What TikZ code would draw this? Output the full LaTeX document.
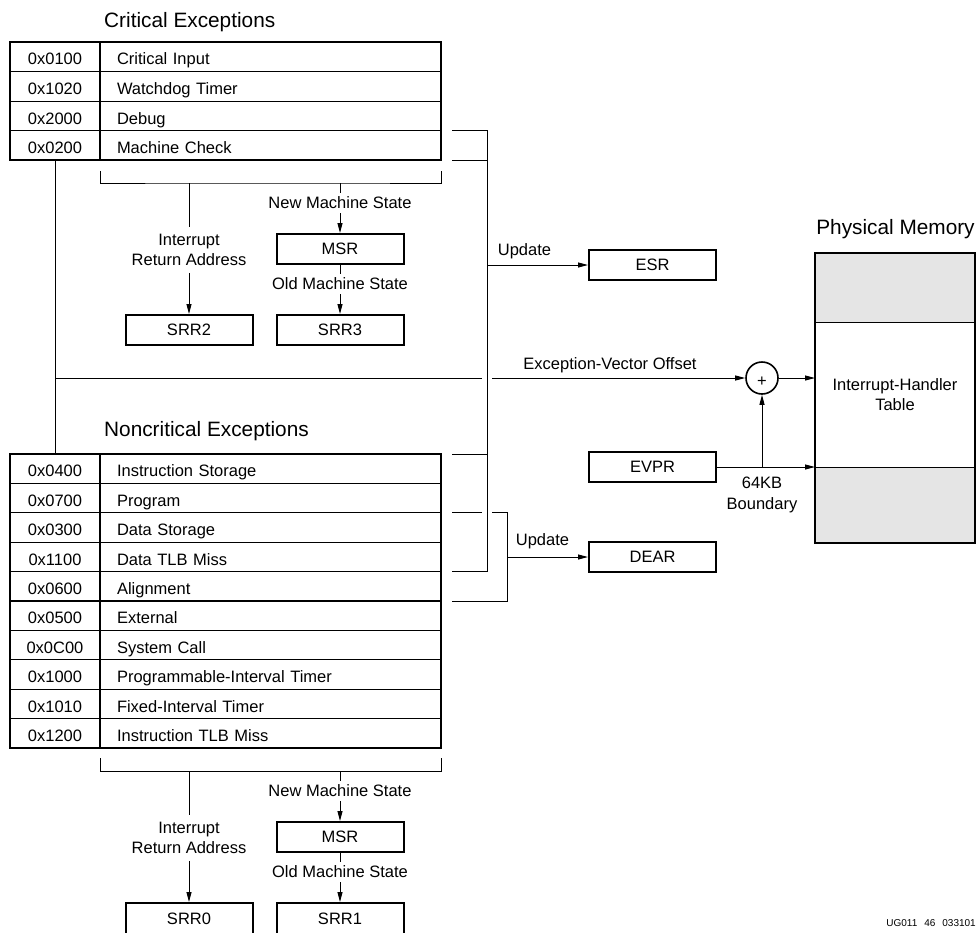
\documentclass[tikz,border=0pt]{standalone}
\usepackage{fontspec}
\setmainfont{Liberation Sans}
\usetikzlibrary{arrows.meta,calc}
\definecolor{memgray}{gray}{0.9}
\begin{document}
\begin{tikzpicture}[x=1pt,y=-1pt,
  txt/.style={font=\fontsize{16.5}{20}\selectfont},
  ttl/.style={font=\fontsize{20.8}{25}\selectfont, inner sep=0pt, text height=14.9pt, text depth=0pt},
  lbl/.style={txt, inner sep=0pt, text height=11.8pt, text depth=0pt},
  conn/.style={line width=1pt},
  arr/.style={conn, -{Triangle[length=10pt,width=5pt]}},
  regbox/.style={txt, draw, line width=2pt, minimum width=127pt, minimum height=30pt,
    inner sep=0pt, text height=11.8pt, text depth=0pt},
  codecell/.style={txt, draw, line width=1.3pt, outer sep=0pt, minimum width=90pt,
    inner sep=0pt, text height=16.2pt, text depth=0pt},
  namecell/.style={txt, draw, line width=1.3pt, outer sep=0pt, text width=307pt,
    inner xsep=17pt, inner ysep=0pt, align=left, text height=16.2pt, text depth=0pt},
  memcell/.style={draw, line width=1pt, outer sep=0pt, minimum width=160pt, inner sep=0pt},
  frame/.style={line width=2pt},
]
\useasboundingbox (0,0) rectangle (977,932);

% ---------- critical exception vector table ----------
\node[ttl, anchor=west] (tcrit) at (104,19.7) {Critical Exceptions};
\foreach \code/\name [count=\i] in {0x0100/Critical Input, 0x1020/Watchdog Timer,
    0x2000/Debug, 0x0200/Machine Check}{
  \node[codecell, minimum height=29.6pt] (ca\i) at (55, 42+29.6*\i-14.8) {\code};
  \node[namecell, minimum height=29.6pt] (cb\i) at (270.5, 42+29.6*\i-14.8) {\name};
}
\draw[frame] (ca1.north west) rectangle (cb4.south east);
\draw[frame] (ca1.north east) -- (ca4.south east);

% ---------- noncritical exception vector table ----------
\node[ttl, anchor=west] (tnon) at (104,429.5) {Noncritical Exceptions};
\foreach \code/\name [count=\i] in {0x0400/Instruction Storage, 0x0700/Program,
    0x0300/Data Storage, 0x1100/Data TLB Miss, 0x0600/Alignment, 0x0500/External,
    0x0C00/System Call, 0x1000/Programmable-Interval Timer,
    0x1010/Fixed-Interval Timer, 0x1200/Instruction TLB Miss}{
  \node[codecell, minimum height=29.4pt] (na\i) at (55, 454+29.4*\i-14.7) {\code};
  \node[namecell, minimum height=29.4pt] (nb\i) at (270.5, 454+29.4*\i-14.7) {\name};
}
\draw[frame] (na1.north west) rectangle (nb10.south east);
\draw[frame] (na1.north east) -- (na10.south east);

% ---------- critical save/restore registers ----------
\coordinate (kl) at (100,171);
\coordinate (kr) at (441,171);
\coordinate (kta) at (189,183);
\coordinate (ktb) at (340,183);
\draw[conn] (kl) |- (kta) -- (ktb) -| (kr);
\node[txt, align=center, inner xsep=0pt, inner ysep=7pt] (ira) at (189,250) {Interrupt\\Return Address};
\node[lbl, inner ysep=4pt] (nms) at (340,203) {New Machine State};
\node[regbox] (msr) at (340,249) {MSR};
\node[lbl, inner ysep=4pt] (oms) at (340,284) {Old Machine State};
\node[regbox] (srr3) at (340,330) {SRR3};
\node[regbox] (srr2) at (189,330) {SRR2};
\draw[conn] (kta) -- (ira.north);
\draw[arr] (ira.south) -- (srr2.north);
\draw[conn] (ktb) -- (nms.north);
\draw[arr] (nms.south) -- (msr.north);
\draw[conn] (msr.south) -- (oms.north);
\draw[arr] (oms.south) -- (srr3.north);

% ---------- noncritical save/restore registers ----------
\coordinate (kl2) at (100,758);
\coordinate (kr2) at (441,758);
\coordinate (kta2) at (189,771);
\coordinate (ktb2) at (340,771);
\draw[conn] (kl2) |- (kta2) -- (ktb2) -| (kr2);
\node[txt, align=center, inner xsep=0pt, inner ysep=7pt] (ira2) at (189,838) {Interrupt\\Return Address};
\node[lbl, inner ysep=4pt] (nms2) at (340,791) {New Machine State};
\node[regbox] (msr2) at (340,837) {MSR};
\node[lbl, inner ysep=4pt] (oms2) at (340,872) {Old Machine State};
\node[regbox, minimum height=31pt] (srr1) at (340,918.5) {SRR1};
\node[regbox, minimum height=31pt] (srr0) at (189,918.5) {SRR0};
\draw[conn] (kta2) -- (ira2.north);
\draw[arr] (ira2.south) -- (srr0.north);
\draw[conn] (ktb2) -- (nms2.north);
\draw[arr] (nms2.south) -- (msr2.north);
\draw[conn] (msr2.south) -- (oms2.north);
\draw[arr] (oms2.south) -- (srr1.north);

% ---------- ESR update bus ----------
\coordinate (esrbus) at (487,0);
\coordinate (dearbus) at (507,0);
\coordinate (e1) at ([xshift=11pt]cb3.south east);
\coordinate (e2) at ([xshift=11pt]cb4.south east);
\coordinate (e3) at ([xshift=11pt]nb1.north east);
\coordinate (e4) at ([xshift=11pt]nb4.south east);
\node[regbox] (esr) at (652.5,265) {ESR};
\node[lbl] (upd1) at (524.5,249.3) {Update};
\draw[conn] (e1) -- (e1 -| esrbus) -- (e4 -| esrbus) -- (e4);
\draw[conn] (e2) -- (e2 -| esrbus);
\draw[conn] (e3) -- (e3 -| esrbus);
\draw[arr] (esr.west -| esrbus) -- (esr.west);

% ---------- DEAR update bus ----------
\coordinate (d1) at ([xshift=11pt]nb2.south east);
\coordinate (d2) at ([xshift=11pt]nb5.south east);
\node[regbox] (dear) at (652.5,557) {DEAR};
\node[lbl] (upd2) at (542.5,540) {Update};
\draw[conn] (d1) -- ([xshift=-5pt]d1 -| esrbus);
\draw[conn] ([xshift=5pt]d1 -| esrbus) -| (d2 -| dearbus) -- (d2);
\draw[arr] (dear.west -| dearbus) -- (dear.west);

% ---------- physical memory ----------
\node[ttl] (tmem) at (895.5,227) {Physical Memory};
\node[memcell, fill=memgray, minimum height=69pt] (mtop) at (895,287.5) {};
\node[memcell, txt, font=\fontsize{16.5}{19.7}\selectfont, align=center, minimum height=145pt] (mmid) at (895,394.5) {Interrupt-Handler\\Table};
\node[memcell, fill=memgray, minimum height=76pt] (mbot) at (895,505) {};
\draw[frame] (mtop.north west) rectangle (mbot.south east);

% ---------- vector address formation ----------
\node[circle, draw, line width=1.6pt, minimum size=32pt, inner sep=0pt, txt,
      text height=16pt, text depth=0pt] (plus) at (762,378) {+};
\draw[conn] (ca4.south) -- (na1.north);
\coordinate (off) at (ca4.south |- plus);
\draw[conn] (off) -- ([xshift=-5pt]off -| esrbus);
\draw[arr] ([xshift=5pt]off -| esrbus) -- (plus.west);
\node[lbl] (evo) at (610,363.3) {Exception-Vector Offset};
\draw[arr] (plus.east) -- (plus -| mmid.west);
\node[regbox] (evpr) at (652.5,467) {EVPR};
\draw[arr] (evpr.east) -- (evpr -| mmid.west);
\coordinate (evj) at (evpr -| plus);
\draw[arr] (evj) -- (plus.south);
\node[align=center, inner sep=0pt, font=\fontsize{16.5}{21}\selectfont] (kb) at (762,494.5) {64KB\\Boundary};

% ---------- figure id ----------
\node[font=\fontsize{10}{12}\selectfont, anchor=east, inner sep=0pt, text height=7.2pt, text depth=0pt] (figid) at (976,922.5) {UG011\hspace{7pt}46\hspace{7pt}033101};
\end{tikzpicture}
\end{document}
